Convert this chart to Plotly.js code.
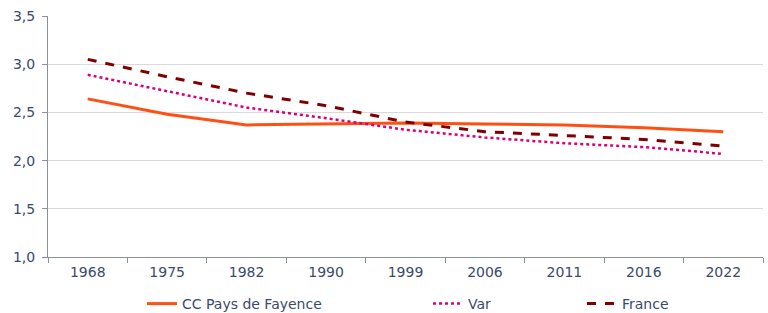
<!DOCTYPE html>
<html><head><meta charset="utf-8">
<script src="https://cdn.plot.ly/plotly-3.0.1.min.js"></script>
<style>html,body{margin:0;padding:0;background:#fff}#c{width:768px;height:313px}</style>
</head><body><div id="c"></div>
<script>
const years = ["1968","1975","1982","1990","1999","2006","2011","2016","2022"];
const ccFayence = [2.64, 2.48, 2.37, 2.38, 2.39, 2.38, 2.37, 2.34, 2.30];
const varDept = [2.89, 2.72, 2.55, 2.44, 2.32, 2.24, 2.18, 2.14, 2.07];
const france = [3.05, 2.87, 2.70, 2.57, 2.40, 2.30, 2.26, 2.22, 2.15];
const names = ["CC Pays de Fayence", "Var", "France"];

const txt = '#3B4A6B';
const traces = [
  {x: years, y: ccFayence, name: names[0], type: 'scatter', mode: 'lines', legend: 'legend',
   line: {color: '#FF5014', width: 3}},
  {x: years, y: varDept, name: names[1], type: 'scatter', mode: 'lines', legend: 'legend2',
   line: {color: '#D6007A', width: 2.5, dash: 'dot'}},
  {x: years, y: france, name: names[2], type: 'scatter', mode: 'lines', legend: 'legend3',
   line: {color: '#7F0000', width: 3, dash: 'dash'}}
];
function leg(px) {
  return {orientation: 'h', xref: 'container', yref: 'container', x: (px - 6) / 768, xanchor: 'left',
          y: 9 / 313, yanchor: 'middle', bgcolor: 'rgba(0,0,0,0)', itemwidth: 30,
          font: {size: 14, color: txt}};
}
const layout = {
  width: 768, height: 313,
  margin: {l: 48, r: 5, t: 16, b: 56},
  paper_bgcolor: '#fff', plot_bgcolor: '#fff',
  separators: ', ',
  font: {family: 'DejaVu Sans, Verdana, sans-serif', size: 14, color: txt},
  showlegend: true,
  legend: leg(148), legend2: leg(434), legend3: leg(588),
  xaxis: {type: 'category', range: [-0.5, 8.5], tickson: 'boundaries', ticks: 'outside', ticklen: 5,
          tickcolor: '#8A90A0', showline: true, linecolor: '#8A90A0', linewidth: 1, automargin: false,
          showgrid: false, tickfont: {size: 14, color: txt}, fixedrange: true, ticklabelstandoff: 2},
  yaxis: {range: [1.0, 3.5], dtick: 0.5, tickformat: '.1f', ticks: 'outside', ticklen: 5,
          tickcolor: '#8A90A0', showline: true, linecolor: '#8A90A0', linewidth: 1, automargin: false,
          showgrid: true, gridcolor: '#D9D9D9', zeroline: false, ticklabelstandoff: 4,
          tickfont: {size: 14, color: txt}, fixedrange: true}
};
Plotly.newPlot('c', traces, layout, {displayModeBar: false, staticPlot: true});
</script></body></html>
